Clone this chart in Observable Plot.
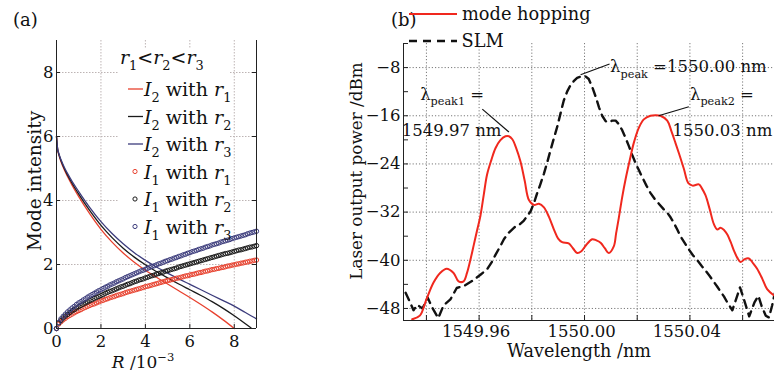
<!DOCTYPE html>
<html><head><meta charset="utf-8">
<script src="https://cdn.jsdelivr.net/npm/d3@7"></script>
<script src="https://cdn.jsdelivr.net/npm/@observablehq/plot@0.6"></script>
<style>
body{margin:0;background:#fff;}
#wrap{position:relative;width:774px;height:372px;overflow:hidden;}
#wrap svg{position:absolute;top:0;overflow:visible;}
</style></head><body><div id="wrap"></div>
<script>
const FONT = "'DejaVu Serif', serif";

// ---------- Panel (a) data ----------
const aTicks = [0, 2, 4, 6, 8];
const aGrid = [2, 4, 6, 8];
const i2R = [0,0.05,0.1,0.2,0.35,0.5,0.7,1,1.5,2,2.5,3,3.5,4,4.5,5,5.5,6,6.5,7,7.5,8,8.5,8.75,9];
const i2r1 = [6.0,5.6,5.44,5.22,4.96,4.74,4.48,4.12,3.58,3.1,2.7,2.36,2.07,1.82,1.6,1.39,1.18,0.97,0.75,0.52,0.27,0.0,null,null,null];
const i2r2 = [6.0,5.61,5.46,5.25,5.0,4.79,4.54,4.2,3.68,3.22,2.84,2.51,2.23,1.99,1.78,1.58,1.39,1.21,1.03,0.84,0.63,0.4,0.15,0.02,null];
const i2r3 = [6.0,5.62,5.48,5.28,5.04,4.84,4.6,4.28,3.78,3.34,2.97,2.65,2.37,2.13,1.92,1.73,1.55,1.38,1.21,1.04,0.87,0.7,0.5,0.4,0.3];
const i1R = [0,0.1,0.2,0.3,0.4,0.5,0.6,0.7,0.8,0.9,1,1.1,1.2,1.3,1.4,1.5,1.6,1.7,1.8,1.9,2,2.1,2.2,2.3,2.4,2.5,2.6,2.7,2.8,2.9,3,3.1,3.2,3.3,3.4,3.5,3.6,3.7,3.8,3.9,4,4.1,4.2,4.3,4.4,4.5,4.6,4.7,4.8,4.9,5,5.1,5.2,5.3,5.4,5.5,5.6,5.7,5.8,5.9,6,6.1,6.2,6.3,6.4,6.5,6.6,6.7,6.8,6.9,7,7.1,7.2,7.3,7.4,7.5,7.6,7.7,7.8,7.9,8,8.1,8.2,8.3,8.4,8.5,8.6,8.7,8.8,8.9,9];
const i1r1 = [0,0.14,0.21,0.27,0.32,0.37,0.41,0.45,0.49,0.53,0.56,0.59,0.63,0.66,0.69,0.72,0.75,0.77,0.80,0.83,0.86,0.88,0.91,0.93,0.96,0.98,1.00,1.03,1.05,1.07,1.09,1.12,1.14,1.16,1.18,1.20,1.22,1.24,1.26,1.28,1.31,1.32,1.34,1.36,1.38,1.40,1.42,1.44,1.46,1.48,1.50,1.51,1.53,1.55,1.57,1.58,1.60,1.62,1.64,1.65,1.67,1.69,1.70,1.72,1.74,1.75,1.77,1.79,1.80,1.82,1.84,1.85,1.87,1.88,1.90,1.91,1.93,1.95,1.96,1.98,1.99,2.01,2.02,2.04,2.05,2.07,2.08,2.10,2.11,2.13,2.14];
const i1r2 = [0,0.17,0.25,0.33,0.39,0.44,0.50,0.55,0.59,0.64,0.68,0.72,0.76,0.80,0.83,0.87,0.90,0.94,0.97,1.00,1.03,1.06,1.10,1.13,1.16,1.18,1.21,1.24,1.27,1.30,1.32,1.35,1.38,1.40,1.43,1.46,1.48,1.51,1.53,1.55,1.58,1.60,1.63,1.65,1.67,1.70,1.72,1.74,1.76,1.79,1.81,1.83,1.85,1.87,1.89,1.92,1.94,1.96,1.98,2.00,2.02,2.04,2.06,2.08,2.10,2.12,2.14,2.16,2.18,2.20,2.22,2.24,2.26,2.28,2.30,2.32,2.34,2.35,2.37,2.39,2.41,2.43,2.45,2.46,2.48,2.50,2.52,2.54,2.55,2.57,2.59];
const i1r3 = [0,0.19,0.30,0.38,0.45,0.52,0.58,0.64,0.69,0.75,0.80,0.84,0.89,0.93,0.98,1.02,1.06,1.10,1.14,1.18,1.21,1.25,1.29,1.32,1.36,1.39,1.42,1.46,1.49,1.52,1.55,1.59,1.62,1.65,1.68,1.71,1.74,1.77,1.80,1.82,1.85,1.88,1.91,1.94,1.96,1.99,2.02,2.04,2.07,2.10,2.12,2.15,2.17,2.20,2.22,2.25,2.27,2.30,2.32,2.35,2.37,2.40,2.42,2.44,2.47,2.49,2.51,2.54,2.56,2.58,2.61,2.63,2.65,2.67,2.70,2.72,2.74,2.76,2.78,2.81,2.83,2.85,2.87,2.89,2.91,2.93,2.96,2.98,3.00,3.02,3.04];
const aColors = ["#e8412e", "#1a1a1a", "#3c3c7c"];

// ---------- Panel (b) data ----------
const xTicksB = [1549.94,1549.96,1549.98,1550.00,1550.02,1550.04,1550.06];
const xLabelsB = [1549.96,1550.00,1550.04];
const yTicksB = [-4,-8,-12,-16,-20,-24,-28,-32,-36,-40,-44,-48];
const yLabelsB = [-8,-16,-24,-32,-40,-48];
const hopL = [1549.9346,1549.9375,1549.9400,1549.9427,1549.9452,1549.9477,1549.9503,1549.9522,1549.9541,1549.9554,1549.9567,1549.9580,1549.9593,1549.9605,1549.9618,1549.9630,1549.9646,1549.9662,1549.9680,1549.9700,1549.9713,1549.9726,1549.9741,1549.9757,1549.9773,1549.9789,1549.9808,1549.9827,1549.9846,1549.9865,1549.9884,1549.9900,1549.9915,1549.9940,1549.9956,1549.9972,1549.9988,1550.0004,1550.0029,1550.0045,1550.0061,1550.0077,1550.0092,1550.0111,1550.0120,1550.0130,1550.0143,1550.0156,1550.0171,1550.0187,1550.0206,1550.0225,1550.0250,1550.0270,1550.0288,1550.0314,1550.0330,1550.0345,1550.0361,1550.0377,1550.0394,1550.0410,1550.0434,1550.0446,1550.0459,1550.0475,1550.0491,1550.0504,1550.0516,1550.0530,1550.0542,1550.0555,1550.0567,1550.0580,1550.0592,1550.0608,1550.0624,1550.0640,1550.0655,1550.0674,1550.0693,1550.0718];
const hopV = [-49.8,-49.2,-46.5,-43.7,-42.1,-41.4,-42.1,-43.5,-43.5,-42.1,-39.9,-37.4,-34.9,-32.6,-29.0,-25.8,-23.4,-21.4,-20.1,-19.4,-19.4,-19.9,-21.4,-23.6,-26.8,-30.0,-30.8,-30.6,-31.2,-32.8,-34.9,-36.4,-37.0,-37.2,-38.0,-38.8,-38.5,-37.6,-36.5,-36.7,-37.1,-38.0,-38.8,-37.7,-35.5,-33.0,-29.5,-26.5,-23.5,-20.5,-18.0,-16.6,-16.0,-15.9,-16.0,-16.8,-18.6,-20.5,-22.6,-24.8,-27.2,-27.6,-27.4,-28.1,-29.2,-31.5,-34.0,-34.9,-34.6,-35.0,-35.7,-37.0,-38.4,-39.6,-40.3,-39.8,-39.7,-40.5,-41.4,-43.0,-44.8,-45.8];
const slmL = [1549.9321,1549.9338,1549.9351,1549.9365,1549.9385,1549.9405,1549.9420,1549.9445,1549.9465,1549.9491,1549.9515,1549.9545,1549.9575,1549.9605,1549.9630,1549.9648,1549.9662,1549.9680,1549.9694,1549.9713,1549.9735,1549.9755,1549.9770,1549.9795,1549.9808,1549.9820,1549.9833,1549.9846,1549.9860,1549.9871,1549.9884,1549.9896,1549.9909,1549.9921,1549.9934,1549.9947,1549.9960,1549.9972,1549.9991,1550.0005,1550.0016,1550.0029,1550.0042,1550.0055,1550.0067,1550.0080,1550.0092,1550.0105,1550.0118,1550.0130,1550.0143,1550.0155,1550.0168,1550.0181,1550.0194,1550.0207,1550.0219,1550.0235,1550.0250,1550.0266,1550.0282,1550.0300,1550.0314,1550.0327,1550.0339,1550.0352,1550.0364,1550.0380,1550.0396,1550.0412,1550.0428,1550.0444,1550.0459,1550.0475,1550.0491,1550.0504,1550.0516,1550.0529,1550.0542,1550.0561,1550.0575,1550.0590,1550.0605,1550.0625,1550.0645,1550.0660,1550.0672,1550.0688,1550.0700,1550.0712,1550.0722];
const slmV = [-45.4,-47.0,-48.3,-47.4,-48.0,-46.2,-47.7,-49.6,-47.5,-46.5,-44.6,-44.2,-43.4,-42.4,-41.5,-40.3,-39.1,-37.7,-36.5,-35.4,-34.5,-34.0,-33.4,-31.9,-30.5,-28.9,-27.3,-25.6,-23.5,-21.7,-19.7,-17.9,-15.6,-13.5,-12.0,-10.9,-10.2,-9.7,-9.4,-9.5,-9.9,-11.2,-12.8,-14.6,-16.0,-16.9,-17.1,-16.8,-16.8,-17.4,-18.4,-19.6,-21.0,-22.5,-23.9,-25.1,-26.2,-27.6,-28.8,-29.8,-30.6,-31.5,-32.1,-32.9,-33.8,-34.9,-36.0,-37.1,-38.2,-39.2,-40.0,-40.9,-41.7,-42.6,-43.6,-44.4,-45.2,-46.0,-47.0,-48.3,-46.5,-44.5,-46.5,-49.3,-47.0,-45.9,-47.6,-49.2,-49.5,-47.5,-45.5];
// annotation anchors (data coordinates)
const leaders = [
  {x1: 1549.9985, y1: -9.2, x2: 1550.0095, y2: -7.4},
  {x1: 1549.9612, y1: -14.9, x2: 1549.9713, y2: -18.7},
  {x1: 1550.0281, y1: -16.0, x2: 1550.0396, y2: -14.5}
];
const notes = [
  {x: 1550.0099, y: -8.87, parts: [{t: "λ"}, {t: "peak", sub: true}, {t: " =1550.00 nm"}]},
  {x: 1549.9378, y: -13.49, parts: [{t: "λ"}, {t: "peak1", sub: true}, {t: " ="}]},
  {x: 1549.9308, y: -19.43, parts: [{t: "1549.97 nm"}]},
  {x: 1550.0402, y: -13.49, parts: [{t: "λ"}, {t: "peak2", sub: true}, {t: " ="}]},
  {x: 1550.0336, y: -19.43, parts: [{t: "1550.03 nm"}]}
];

// ---------- helpers ----------
function rich(sel, x, y, parts, size, opts = {}) {
  const t = sel.append("text").attr("font-family", FONT).attr("font-size", size)
    .attr("fill", "#111").attr("text-anchor", opts.anchor || "start").style("white-space", "pre");
  if (opts.rotate) t.attr("transform", `translate(${x},${y}) rotate(${opts.rotate})`);
  else t.attr("x", x).attr("y", y);
  let shift = 0;
  for (const p of parts) {
    const ts = t.append("tspan").text(p.t);
    const target = p.sub ? size * 0.32 : p.sup ? -size * 0.42 : 0;
    if (target !== shift) { ts.attr("dy", target - shift); shift = target; }
    if (p.sub || p.sup) ts.attr("font-size", size * 0.68);
    if (p.i) ts.attr("font-style", "italic");
  }
  return t;
}

// ---------- Panel (a) ----------
const i2Rows = [i2r1, i2r2, i2r3].map(arr => i2R.map((R, k) => ({R, v: arr[k]})));
const i1Rows = [i1r1, i1r2, i1r3].map(arr => i1R.map((R, k) => ({R, v: arr[k]})));
const pwA = 200, phA = 288;

const legendBg = () => d3.create("svg:rect").attr("x", 118).attr("y", 48).attr("width", 112).attr("height", 192).attr("fill", "#fff").node();
const legendA = () => {
  const g = d3.create("svg:g");
  const s = 19;
  rich(g, 120, 64, [{t:"r",i:1},{t:"1",sub:1},{t:"<"},{t:"r",i:1},{t:"2",sub:1},{t:"<"},{t:"r",i:1},{t:"3",sub:1}], s);
  const base = [96, 123.5, 151, 178.5, 206, 233.5];
  for (let k = 0; k < 6; k++) {
    const c = aColors[k % 3];
    if (k < 3) g.append("line").attr("x1", 128).attr("x2", 143).attr("y1", base[k] - 7).attr("y2", base[k] - 7).attr("stroke", c).attr("stroke-width", 1.3);
    else g.append("circle").attr("cx", 135).attr("cy", base[k] - 7).attr("r", 2.1).attr("fill", "none").attr("stroke", c).attr("stroke-width", 1);
    rich(g, 144, base[k], [{t:"I",i:1},{t: k < 3 ? "2" : "1",sub:1},{t:" with "},{t:"r",i:1},{t:String(k % 3 + 1),sub:1}], s);
  }
  return g.node();
};

const svgA = Plot.plot({
  width: 300, height: 372, marginLeft: 56, marginRight: 44, marginTop: 40, marginBottom: 44,
  x: {domain: [0, 9]}, y: {domain: [0, 9]},
  style: {fontFamily: FONT, fontSize: "16.5px", background: "transparent", color: "#111", overflow: "visible"},
  marks: [
    Plot.gridX(aGrid, {stroke: "#bdb4b4", strokeOpacity: 1, strokeDasharray: "1.5,1.5"}),
    Plot.gridY(aGrid, {stroke: "#bdb4b4", strokeOpacity: 1, strokeDasharray: "1.5,1.5"}),
    legendBg,
    ...i2Rows.map((rows, k) => Plot.line(rows, {x: "R", y: "v", stroke: aColors[k], strokeWidth: 1.3, curve: "monotone-x"})),
    ...i1Rows.map((rows, k) => Plot.dot(rows, {x: "R", y: "v", stroke: aColors[k], r: 2.2, strokeWidth: 1})),
    Plot.ruleX([0, 9], {stroke: "#222"}),
    Plot.ruleY([0], {stroke: "#222"}),
    Plot.tickY(aTicks, {y: d => d, insetRight: pwA - 4, stroke: "#222"}),
    Plot.tickY(aTicks, {y: d => d, insetLeft: pwA - 4, stroke: "#222"}),
    Plot.tickX(aTicks, {x: d => d, insetTop: phA - 4, stroke: "#222"}),
    Plot.axisX(aTicks, {tickSize: 0, tickPadding: 7, label: null, tickFormat: d => String(d)}),
    Plot.axisY(aTicks, {tickSize: 0, tickPadding: 3, label: null, tickFormat: d => String(d)}),
    legendA
  ]
});
const gA = d3.select(svgA).append("g");
rich(gA, 13, 26, [{t: "(a)"}], 18);
rich(gA, 41, 181, [{t: "Mode intensity"}], 18.5, {anchor: "middle", rotate: -90});
rich(gA, 143, 368, [{t: "R", i: 1}, {t: " /10"}, {t: "−3", sup: 1}], 17, {anchor: "middle"});
svgA.style.left = "0px";

// ---------- Panel (b) ----------
const hopRows = hopL.map((x, k) => ({x, v: hopV[k]}));
const slmRows = slmL.map((x, k) => ({x, v: slmV[k]}));
const pwB = 371, phB = 277;
const minus = d => (d < 0 ? "\u2212" : "") + Math.abs(d);
const svgB = Plot.plot({
  width: 444, height: 372, marginLeft: 73, marginRight: 0, marginTop: 43, marginBottom: 52,
  x: {domain: [1549.9313, 1550.0721]}, y: {domain: [-50, -4]},
  style: {fontFamily: FONT, fontSize: "16.5px", background: "transparent", color: "#111", overflow: "visible"},
  marks: [
    Plot.gridX(xTicksB, {stroke: "#7a7a7a", strokeOpacity: 1, strokeDasharray: "1.2,2"}),
    Plot.gridY(yLabelsB, {stroke: "#7a7a7a", strokeOpacity: 1, strokeDasharray: "1.2,2"}),
    Plot.line(slmRows, {x: "x", y: "v", stroke: "#111", strokeWidth: 2.4, strokeDasharray: "8,6", clip: true}),
    Plot.line(hopRows, {x: "x", y: "v", stroke: "#f0281e", strokeWidth: 2, curve: "catmull-rom", clip: true}),
    Plot.link(leaders, {x1: "x1", y1: "y1", x2: "x2", y2: "y2", stroke: "#111", strokeWidth: 1.2}),
    Plot.ruleX([1549.9313], {stroke: "#222"}),
    Plot.ruleY([-50], {stroke: "#222"}),
    Plot.tickY(yTicksB, {y: d => d, insetRight: pwB - 5, stroke: "#222"}),
    Plot.tickX(xTicksB, {x: d => d, insetTop: phB - 5, stroke: "#222"}),
    Plot.axisX(xLabelsB, {tickSize: 0, tickPadding: 5, label: null, dx: -3, tickFormat: d3.format(".2f")}),
    Plot.axisY(yLabelsB, {tickSize: 0, tickPadding: 3, label: null, tickFormat: minus})
  ]
});
const xs = svgB.scale("x"), ys = svgB.scale("y");
const gB = d3.select(svgB).append("g");
for (const n of notes) rich(gB, xs.apply(n.x), ys.apply(n.y), n.parts, 16.5);
rich(gB, 61, 26, [{t: "(b)"}], 18);
rich(gB, 32, 171, [{t: "Laser output power /dBm"}], 16.8, {anchor: "middle", rotate: -90});
rich(gB, 249, 357, [{t: "Wavelength /nm"}], 17.6, {anchor: "middle"});
gB.append("line").attr("x1", 79).attr("x2", 127).attr("y1", 14).attr("y2", 14).attr("stroke", "#f0281e").attr("stroke-width", 2.2);
rich(gB, 132, 20, [{t: "mode hopping"}], 17.8);
gB.append("line").attr("x1", 79).attr("x2", 127).attr("y1", 41).attr("y2", 41).attr("stroke", "#111").attr("stroke-width", 2.4).attr("stroke-dasharray", "8,6");
rich(gB, 131.5, 47, [{t: "SLM"}], 17.8);
svgB.style.left = "330px";

document.getElementById("wrap").append(svgA, svgB);
</script></body></html>
